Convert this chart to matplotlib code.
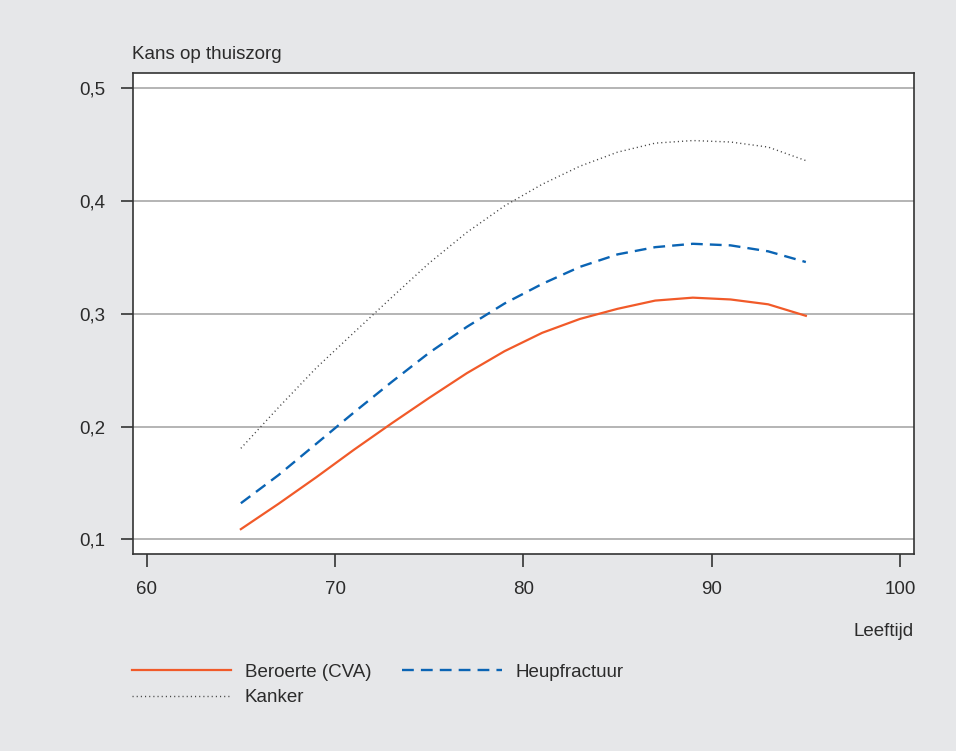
import matplotlib
matplotlib.use("Agg")
import matplotlib.pyplot as plt

plt.rcParams['font.family'] = ['Liberation Sans', 'DejaVu Sans']

ages = [65, 67, 69, 71, 73, 75, 77, 79, 81, 83, 85, 87, 89, 91, 93, 95]
beroerte = [0.109, 0.1315, 0.155, 0.1794, 0.2028, 0.2255, 0.2474, 0.2669, 0.2832, 0.2955,
            0.3045, 0.3118, 0.3144, 0.3128, 0.3085, 0.2983]
heupfractuur = [0.132, 0.157, 0.1847, 0.2125, 0.2395, 0.2655, 0.2885, 0.3092, 0.3266, 0.3417,
                0.3528, 0.3592, 0.3622, 0.3608, 0.3555, 0.3460]
kanker = [0.1807, 0.217, 0.252, 0.2834, 0.3145, 0.3451, 0.3723, 0.3958, 0.415, 0.431,
          0.4435, 0.4515, 0.4538, 0.4525, 0.448, 0.436]

xticks = [60, 70, 80, 90, 100]
yticks = [0.1, 0.2, 0.3, 0.4, 0.5]
ytick_labels = ['0,1', '0,2', '0,3', '0,4', '0,5']

bg = '#e6e7e9'
txt = '#2b2b2b'
fs = 13.5
W, H = 956, 751
fig = plt.figure(figsize=(W/100, H/100), dpi=100, facecolor=bg)
ax = fig.add_axes([132.7/W, 1-553.5/H, (914-132.7)/W, (553.5-72.7)/H])
ax.set_facecolor('white')

for y in yticks:
    ax.axhline(y, color='#a8a8a8', lw=1.2, zorder=1)

l1, = ax.plot(ages, beroerte, color='#f15a29', lw=1.6, zorder=3, label='Beroerte (CVA)')
l2, = ax.plot(ages, heupfractuur, color='#0a64b4', lw=1.7, dashes=(5, 3), zorder=3, label='Heupfractuur')
l3, = ax.plot(ages, kanker, color='#444444', lw=1.0, dashes=(0.8, 2.2), zorder=3, label='Kanker')

ax.set_xlim(59.257, 100.743)
ax.set_ylim(0.0874, 0.514)
ax.set_xticks(xticks)
ax.set_xticklabels([str(v) for v in xticks])
ax.set_yticks(yticks)
ax.set_yticklabels(ytick_labels)
ax.tick_params(axis='both', colors='#333333', labelcolor=txt, labelsize=fs, length=9, width=1.2, direction='out')
ax.tick_params(axis='x', pad=11)
ax.tick_params(axis='y', pad=11)
for s in ax.spines.values():
    s.set_color('#333333')
    s.set_linewidth(1.2)

fig.text(132/W, 1-59/H, 'Kans op thuiszorg', fontsize=fs, color=txt, ha='left', va='baseline')
fig.text(913.5/W, 1-636.5/H, 'Leeftijd', fontsize=fs, color=txt, ha='right', va='baseline')

fig.legend(handles=[l1, l3, l2], labels=['Beroerte (CVA)', 'Kanker', 'Heupfractuur'],
           ncol=2, loc='upper left', bbox_to_anchor=(124/W, 1-656/H),
           frameon=False, fontsize=fs, handlelength=5.3, handletextpad=0.75,
           columnspacing=1.65, labelspacing=0.45, borderaxespad=0, labelcolor=txt)

fig.savefig('out.png', dpi=100, facecolor=bg)
